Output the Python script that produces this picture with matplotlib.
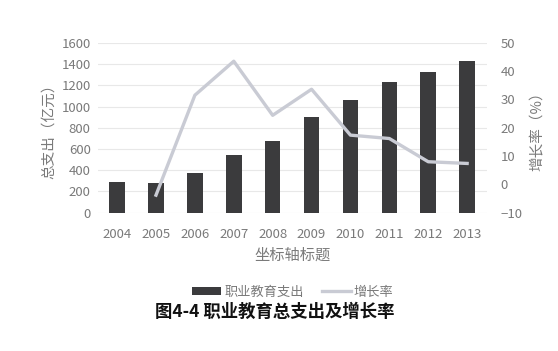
import numpy as np
import matplotlib.pyplot as plt

plt.rcParams['font.family'] = ['Noto Sans CJK SC', 'DejaVu Sans']

years = ['2004', '2005', '2006', '2007', '2008', '2009', '2010', '2011', '2012', '2013']
spending = [292, 282, 376, 543, 672, 904, 1061, 1233, 1327, 1431]
growth = [np.nan, -3.8, 31.5, 43.5, 24.4, 33.6, 17.4, 16.2, 8.0, 7.4]

bar_color = '#3b3b3d'
line_color = '#c9cbd4'
text_color = '#7a7a7a'

fig = plt.figure(figsize=(5.58, 3.51), dpi=100)
ax = fig.add_axes([0.175, 0.394, 0.697, 0.484])
x = np.arange(len(years))

ax.bar(x, spending, width=0.4, color=bar_color, label='职业教育支出', zorder=2)
ax.set_ylim(0, 1600)
ax.set_yticks(np.arange(0, 1601, 200))
ax.set_xlim(-0.5, len(years) - 0.5)
ax.set_xticks(x)
ax.set_xticklabels(years)
ax.grid(axis='y', color='#e8e8e8', linewidth=0.8, zorder=0)
ax.set_axisbelow(True)
for s in ax.spines.values():
    s.set_visible(False)
ax.tick_params(length=0, labelsize=9.5, labelcolor=text_color, pad=5)
ax.tick_params(axis='x', pad=11)
ax.set_ylabel('总支出（亿元）', fontsize=10.5, color=text_color, labelpad=4)
ax.set_xlabel('坐标轴标题', fontsize=11, color=text_color, labelpad=4)

ax2 = ax.twinx()
ax2.plot(x, growth, color=line_color, linewidth=2.4, label='增长率', zorder=3)
ax2.set_ylim(-10, 50)
ax2.set_yticks(np.arange(-10, 51, 10))
for s in ax2.spines.values():
    s.set_visible(False)
ax2.tick_params(length=0, labelsize=9.5, labelcolor=text_color, pad=10)
ax2.set_ylabel('增长率（%）', fontsize=10.5, color=text_color, labelpad=6)

h1, l1 = ax.get_legend_handles_labels()
h2, l2 = ax2.get_legend_handles_labels()
fig.legend(h1 + h2, l1 + l2, loc='center', bbox_to_anchor=(0.525, 0.168), ncol=2,
           frameon=False, fontsize=9.5, labelcolor=text_color, handlelength=2.2,
           handleheight=0.5, columnspacing=1.4, handletextpad=0.2)

fig.text(0.493, 0.111, '图4-4 职业教育总支出及增长率', ha='center', va='center',
         fontsize=12.5, fontweight='bold', color='#111111')

fig.savefig('out.png', dpi=100, facecolor='white')
